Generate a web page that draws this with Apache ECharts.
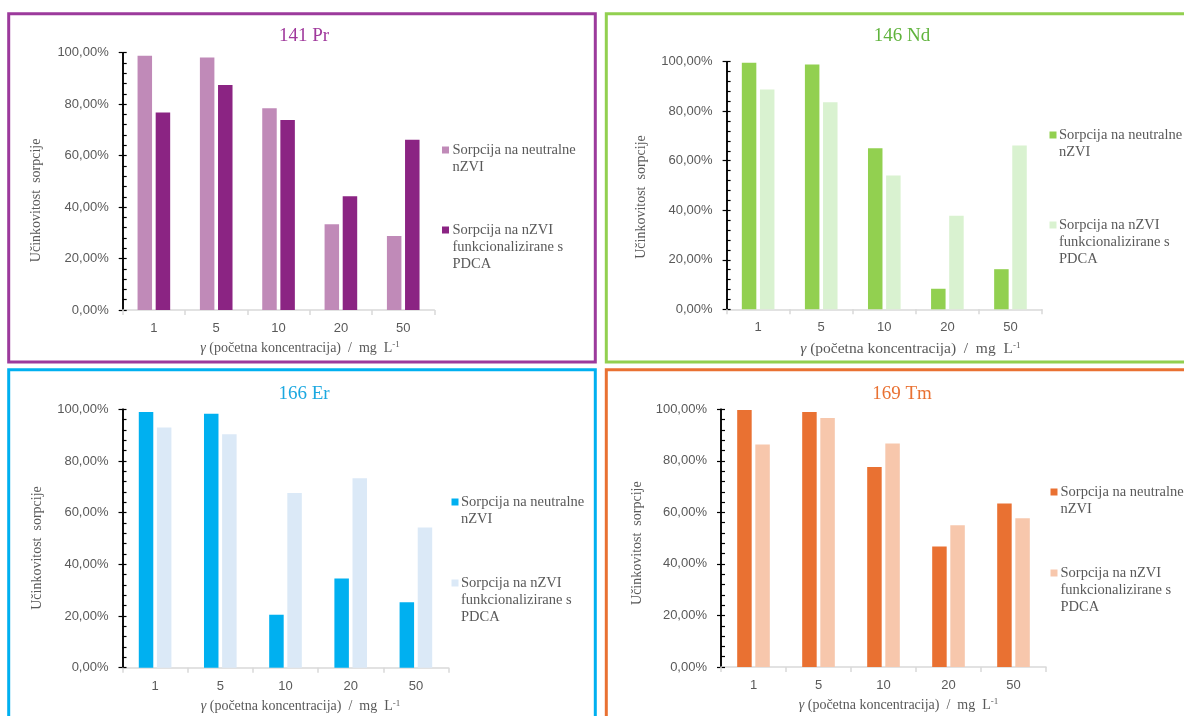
<!DOCTYPE html>
<html>
<head>
<meta charset="utf-8">
<script src="https://cdn.jsdelivr.net/npm/echarts@6/dist/echarts.min.js"></script>
<style>
html,body{margin:0;padding:0;background:#fff;}
#c{width:1184px;height:716px;}
</style>
</head>
<body>
<div id="c"></div>
<script>
// ---- data ----
const categories = ['1', '5', '10', '20', '50'];
const panelTitles = ['141 Pr', '146 Nd', '166 Er', '169 Tm'];
const seriesNames = ['Sorpcija na neutralne\nnZVI', 'Sorpcija na nZVI\nfunkcionalizirane s\nPDCA'];
const yTickValues = [0, 20, 40, 60, 80, 100];
const yAxisTitle = 'Učinkovitost  sorpcije';

const prNeutral = [98.8, 98.1, 78.4, 33.3, 28.8];
const prPdca    = [76.8, 87.4, 73.8, 44.2, 66.2];
const ndNeutral = [99.6, 98.9, 65.0, 8.3, 16.2];
const ndPdca    = [88.8, 83.6, 54.0, 37.8, 66.2];
const erNeutral = [99.0, 98.3, 20.5, 34.5, 25.3];
const erPdca    = [93.0, 90.3, 67.6, 73.3, 54.3];
const tmNeutral = [99.7, 99.0, 77.6, 46.8, 63.4];
const tmPdca    = [86.3, 96.6, 86.7, 55.0, 57.7];

const panelData = [
  [prNeutral, prPdca],
  [ndNeutral, ndPdca],
  [erNeutral, erPdca],
  [tmNeutral, tmPdca]
];

// ---- styles / layout ----
const SERIF = "'Liberation Serif','Times New Roman',serif";
const SANS = "'Liberation Sans',Arial,sans-serif";
const GRAY = '#595959';

const styles = [
  {title: '#a0399c', border: '#9c3a9c', neutral: '#c08ab8', pdca: '#8b2483'},
  {title: '#5fb33c', border: '#92d050', neutral: '#92d050', pdca: '#d9f2d0'},
  {title: '#1ba8e0', border: '#00b0f0', neutral: '#00b0f0', pdca: '#dbe9f7'},
  {title: '#e97132', border: '#e97132', neutral: '#e97132', pdca: '#f7c7ac'}
];

const layout = [
  {grid: {left: 122.7, top: 52.7, width: 311.7, height: 257.3}, titleX: 304, titleY: 27,
   border: {x: 8.7, y: 13.7, width: 586.6, height: 348.3},
   xNameShift: 43, xNameGap: 30, xNameSize: 14, yNameGap: 79, yNameShift: 38,
   leg: {sx: 442, tx: 452.5, y1: 150, y2: 230}},
  {grid: {left: 726.6, top: 61.7, width: 315.4, height: 247.6}, titleX: 902, titleY: 27,
   border: {x: 606.3, y: 13.7, width: 600, height: 348.3},
   xNameShift: 52, xNameGap: 32, xNameSize: 15.5, yNameGap: 78, yNameShift: 23,
   leg: {sx: 1049.5, tx: 1059, y1: 135, y2: 225}},
  {grid: {left: 122.5, top: 409.3, width: 326, height: 258.4}, titleX: 304, titleY: 385,
   border: {x: 8.7, y: 369.7, width: 586.6, height: 400},
   xNameShift: 30, xNameGap: 31, xNameSize: 14, yNameGap: 78, yNameShift: 19,
   leg: {sx: 451.5, tx: 461, y1: 502, y2: 583}},
  {grid: {left: 721, top: 409.3, width: 325, height: 257.7}, titleX: 902, titleY: 385,
   border: {x: 606.3, y: 369.7, width: 600, height: 400},
   xNameShift: 30, xNameGap: 30, xNameSize: 14, yNameGap: 77, yNameShift: 10,
   leg: {sx: 1050.5, tx: 1060.5, y1: 492, y2: 573}}
];

const chart = echarts.init(document.getElementById('c'), null, {renderer: 'canvas'});

const grids = [], xAxes = [], yAxes = [], series = [], titles = [], graphics = [];

function fmtPct(v) { return v.toFixed(2).replace('.', ',') + '%'; }

layout.forEach((L, i) => {
  const S = styles[i];
  grids.push(Object.assign({containLabel: false}, L.grid));
  titles.push({
    text: panelTitles[i], left: L.titleX, top: L.titleY, textAlign: 'center', padding: 0,
    textStyle: {fontFamily: SERIF, fontSize: 19, fontWeight: 'normal', color: S.title}
  });
  xAxes.push({
    type: 'category', gridIndex: i, data: categories,
    axisLine: {lineStyle: {color: '#d9d9d9', width: 1.5}},
    axisTick: {show: true, length: 5, lineStyle: {color: '#d9d9d9', width: 1.5}},
    axisLabel: {margin: 12, fontFamily: SANS, fontSize: 13, color: GRAY},
    splitLine: {show: false},
    name: '{i|γ} (početna koncentracija)  /  mg  L{s|-1}',
    nameLocation: 'middle', nameGap: L.xNameGap,
    nameTextStyle: {
      fontFamily: SERIF, fontSize: L.xNameSize, color: GRAY, lineHeight: 16,
      padding: [0, 0, 0, L.xNameShift],
      rich: {
        i: {fontFamily: SERIF, fontSize: L.xNameSize, fontStyle: 'italic', color: GRAY},
        s: {fontFamily: SERIF, fontSize: 9, color: GRAY, verticalAlign: 'top', lineHeight: 16}
      }
    }
  });
  // main y axis: labels + inside ticks (major + minor)
  yAxes.push({
    type: 'value', gridIndex: i, min: yTickValues[0], max: yTickValues[yTickValues.length - 1],
    interval: yTickValues[1] - yTickValues[0], position: 'left',
    axisLine: {show: true, lineStyle: {color: '#000', width: 1.5}},
    axisTick: {show: true, inside: true, length: 4, lineStyle: {color: '#000', width: 1.2}},
    minorTick: {show: true, splitNumber: 5, length: 4, lineStyle: {color: '#000', width: 1.2}},
    splitLine: {show: false}, minorSplitLine: {show: false},
    axisLabel: {margin: 14, fontFamily: SANS, fontSize: 13, color: GRAY, formatter: fmtPct},
    name: yAxisTitle, nameLocation: 'middle', nameRotate: 90, nameGap: L.yNameGap,
    nameTextStyle: {fontFamily: SERIF, fontSize: 14, color: GRAY, padding: [0, L.yNameShift, 0, 0]}
  });
  // overlay y axis: outside major ticks
  yAxes.push({
    type: 'value', gridIndex: i, min: yTickValues[0], max: yTickValues[yTickValues.length - 1],
    interval: yTickValues[1] - yTickValues[0], position: 'left', offset: 0,
    axisLine: {show: true, lineStyle: {color: '#000', width: 1.5}},
    axisTick: {show: true, inside: false, length: 4, lineStyle: {color: '#000', width: 1.2}},
    axisLabel: {show: false}, splitLine: {show: false}
  });
  const data = panelData[i];
  [0, 1].forEach(k => {
    series.push({
      type: 'bar', name: seriesNames[k], xAxisIndex: i, yAxisIndex: i * 2,
      data: data[k], barWidth: 14.5, barGap: '25%',
      itemStyle: {color: k === 0 ? S.neutral : S.pdca},
      emphasis: {disabled: true}
    });
  });
  // border
  graphics.push({
    type: 'rect', silent: true, z: 100,
    shape: L.border,
    style: {fill: 'transparent', stroke: S.border, lineWidth: 3}
  });
  // legend
  const leg = L.leg;
  [[leg.y1, S.neutral, seriesNames[0]], [leg.y2, S.pdca, seriesNames[1]]].forEach(([y, col, txt]) => {
    graphics.push({
      type: 'rect', silent: true, z: 100,
      shape: {x: leg.sx, y: y - 3.5, width: 7, height: 7},
      style: {fill: col}
    });
    graphics.push({
      type: 'text', silent: true, z: 100, x: leg.tx, y: y - 8.5,
      style: {text: txt, fontFamily: SERIF, fontSize: 14.5, lineHeight: 17,
              fill: GRAY, verticalAlign: 'top', align: 'left'}
    });
  });
});

chart.setOption({
  backgroundColor: '#ffffff',
  animation: false,
  title: titles,
  grid: grids,
  xAxis: xAxes,
  yAxis: yAxes,
  series: series,
  graphic: {elements: graphics}
});
</script>
</body>
</html>
